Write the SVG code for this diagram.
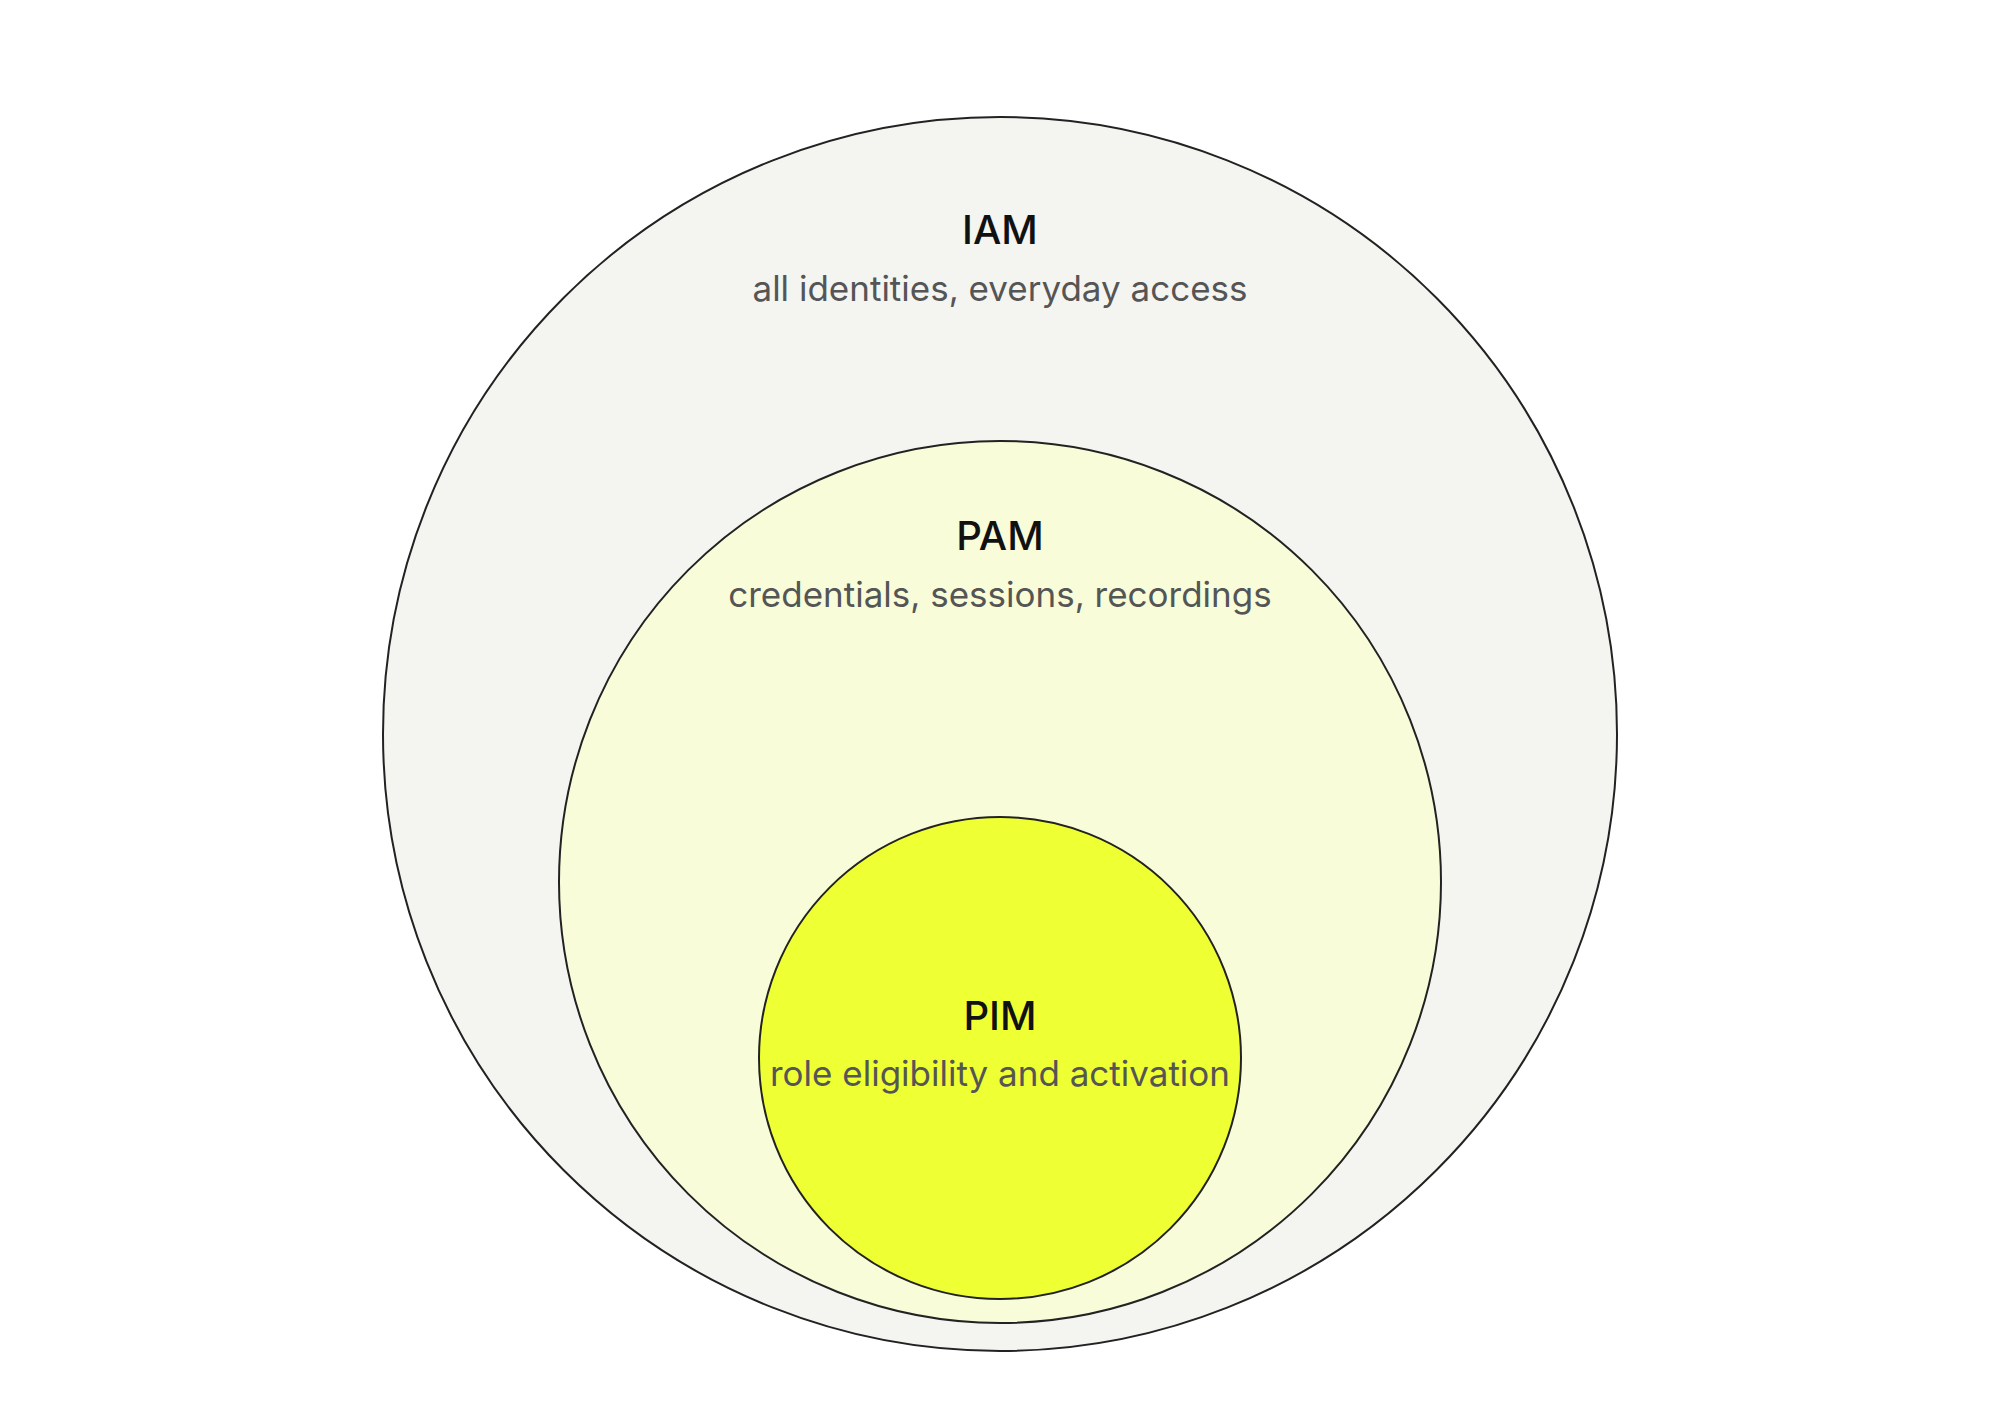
<svg xmlns="http://www.w3.org/2000/svg" width="1999" height="1412" viewBox="0 0 1999 1412">
<style>
.c{stroke:#222;stroke-width:2}
.t{font-family:Inter,"Liberation Sans",sans-serif;text-anchor:middle;font-weight:500;font-size:40px;fill:#111}
.s{font-family:Inter,"Liberation Sans",sans-serif;text-anchor:middle;font-size:35px;fill:#555}
</style>
<rect width="1999" height="1412" fill="#fff"/>
<g id="iam"><circle class="c" cx="1000" cy="734" r="617" fill="#f4f4f0"/>
<text class="t" x="1000" y="244">IAM</text><text class="s" x="1000" y="301">all identities, everyday access</text></g>
<g id="pam"><circle class="c" cx="1000" cy="882" r="441" fill="#f8fcd8"/>
<text class="t" x="1000" y="550">PAM</text><text class="s" x="1000" y="607">credentials, sessions, recordings</text></g>
<g id="pim"><circle class="c" cx="1000" cy="1058" r="241" fill="#eeff33"/>
<text class="t" x="1000" y="1030">PIM</text><text class="s" x="1000" y="1086" fill="#333">role eligibility and activation</text></g>
<g id="connectors"/>
</svg>
